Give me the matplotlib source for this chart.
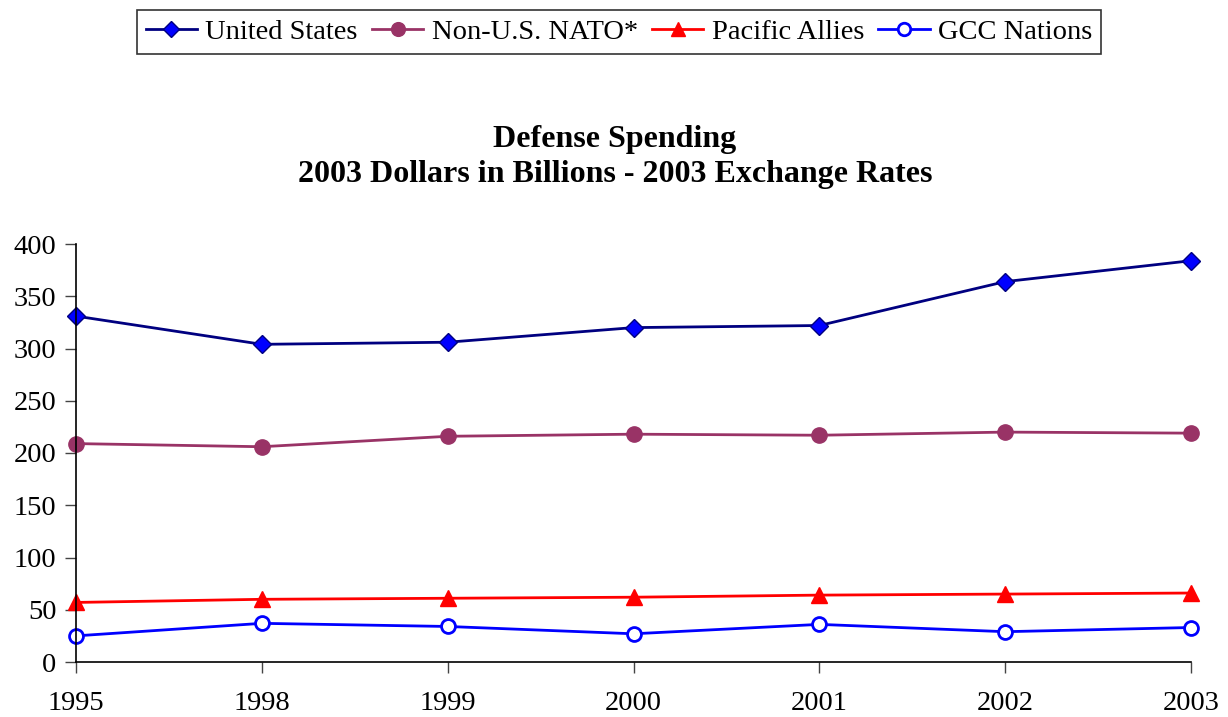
import matplotlib.pyplot as plt

years = ['1995', '1998', '1999', '2000', '2001', '2002', '2003']
us = [331, 304, 306, 320, 322, 364, 384]
nato = [209, 206, 216, 218, 217, 220, 219]
pacific = [57, 60, 61, 62, 64, 65, 66]
gcc = [25, 37, 34, 27, 36, 29, 33]

plt.rcParams['font.family'] = ['Liberation Serif', 'DejaVu Serif']

fig = plt.figure(figsize=(12.28, 7.17), dpi=100)
ax = fig.add_axes([76 / 1228, 1 - 662 / 717, (1191 - 76) / 1228, (662 - 244) / 717])

x = range(len(years))
l1, = ax.plot(x, us, color='#000080', lw=2, marker='D', ms=9,
              markerfacecolor='#0000FF', markeredgecolor='#000080', label='United States')
l2, = ax.plot(x, nato, color='#993366', lw=2, marker='o', ms=11,
              markerfacecolor='#993366', markeredgecolor='#993366', label='Non-U.S. NATO*')
l3, = ax.plot(x, pacific, color='#FF0000', lw=2, marker='^', ms=11,
              markerfacecolor='#FF0000', markeredgecolor='#FF0000', label='Pacific Allies')
l4, = ax.plot(x, gcc, color='#0000FF', lw=2, marker='o', ms=10, mew=2,
              markerfacecolor='white', markeredgecolor='#0000FF', label='GCC Nations')

ax.set_xlim(0, len(years) - 1)
ax.set_ylim(0, 400)
ax.set_yticks(range(0, 401, 50))
ax.set_xticks(list(x))
ax.set_xticklabels(years)
ax.tick_params(labelsize=20.5, length=8, width=1, color='#444444', direction='out')
ax.tick_params(axis='x', pad=13)
ax.tick_params(axis='y', pad=6)
for s in ['top', 'right']:
    ax.spines[s].set_visible(False)
for s in ['left', 'bottom']:
    ax.spines[s].set_linewidth(1.2)
    ax.spines[s].set_clip_on(False)
for l in ax.lines:
    l.set_clip_on(False)

fig.text(615 / 1228, 1 - 157 / 717, 'Defense Spending\n2003 Dollars in Billions - 2003 Exchange Rates',
         ha='center', va='center', fontsize=23, fontweight='bold', linespacing=1.3)

leg = fig.legend(handles=[l1, l2, l3, l4], loc='center', bbox_to_anchor=(619 / 1228, 1 - 32 / 717),
                 ncol=4, fontsize=20.5, frameon=True, fancybox=False, edgecolor='black',
                 handlelength=1.8, handletextpad=0.3, columnspacing=0.5, borderpad=0.3,
                 borderaxespad=0.3, markerscale=0.9)
leg.get_frame().set_linewidth(1.2)

fig.savefig('out.png', dpi=100)
